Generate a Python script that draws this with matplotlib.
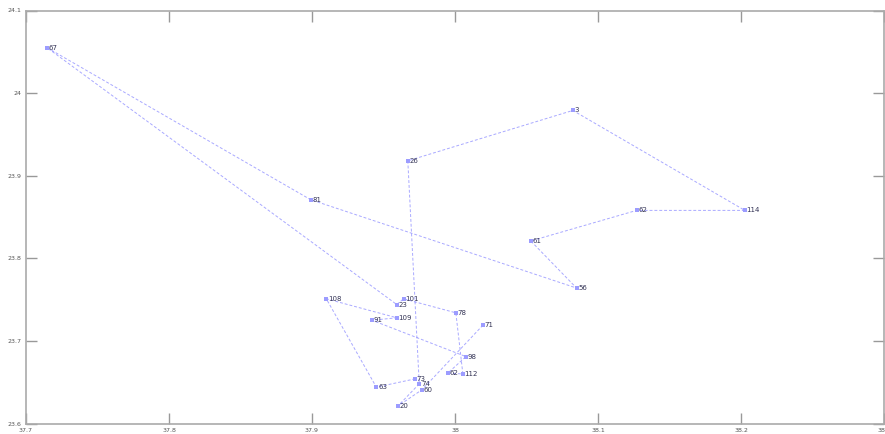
import matplotlib
matplotlib.use("Agg")
import matplotlib.pyplot as plt

labels = ["71", "60", "20", "74", "26", "3", "114", "62", "61", "56", "81", "67",
          "23", "101", "78", "112", "62", "98", "91", "109", "108", "63", "73"]
xs = [38.0195, 37.977, 37.960, 37.975, 37.967, 38.0824, 38.2027, 38.127, 38.053, 38.085,
      37.899, 37.7147, 37.9593, 37.964, 38.0006, 38.0055, 37.995, 38.0076, 37.942, 37.9593,
      37.910, 37.945, 37.972]
ys = [23.719, 23.641, 23.621, 23.648, 23.918, 23.979, 23.858, 23.858, 23.821, 23.764,
      23.871, 24.055, 23.744, 23.751, 23.734, 23.660, 23.661, 23.681, 23.725, 23.728,
      23.751, 23.644, 23.654]

xticks = [37.7, 37.8, 37.9, 38.0, 38.1, 38.2, 38.3]
xticklabels = ["37.7", "37.8", "37.9", "38", "38.1", "38.2", "38.3"]
yticks = [23.6, 23.7, 23.8, 23.9, 24.0, 24.1]
yticklabels = ["23.6", "23.7", "23.8", "23.9", "24", "24.1"]

fig = plt.figure(figsize=(8.85, 4.34), dpi=100)
ax = fig.add_axes([26/885, 10.5/434, 858/885, 413/434])

ax.plot(xs, ys, linestyle=(0, (3, 2)), color="#9a9aff", linewidth=0.7, alpha=0.85)
ax.plot(xs, ys, linestyle="none", marker="s", markersize=3, color="#9c9cff",
        markeredgewidth=0)
for x, y, t in zip(xs, ys, labels):
    ax.text(x + 0.0012, y, t, fontsize=5, color="#333355", va="center", ha="left")

ax.set_xlim(37.7, 38.3)
ax.set_ylim(23.6, 24.1)
ax.set_xticks(xticks)
ax.set_xticklabels(xticklabels)
ax.set_yticks(yticks)
ax.set_yticklabels(yticklabels)
ax.tick_params(direction="in", length=8, width=1, colors="#999999", labelsize=4.5,
               labelcolor="#555555", top=True, right=True, pad=3)
for s in ax.spines.values():
    s.set_color("#aaaaaa")
    s.set_linewidth(1.2)

fig.savefig("out.png", dpi=100)
